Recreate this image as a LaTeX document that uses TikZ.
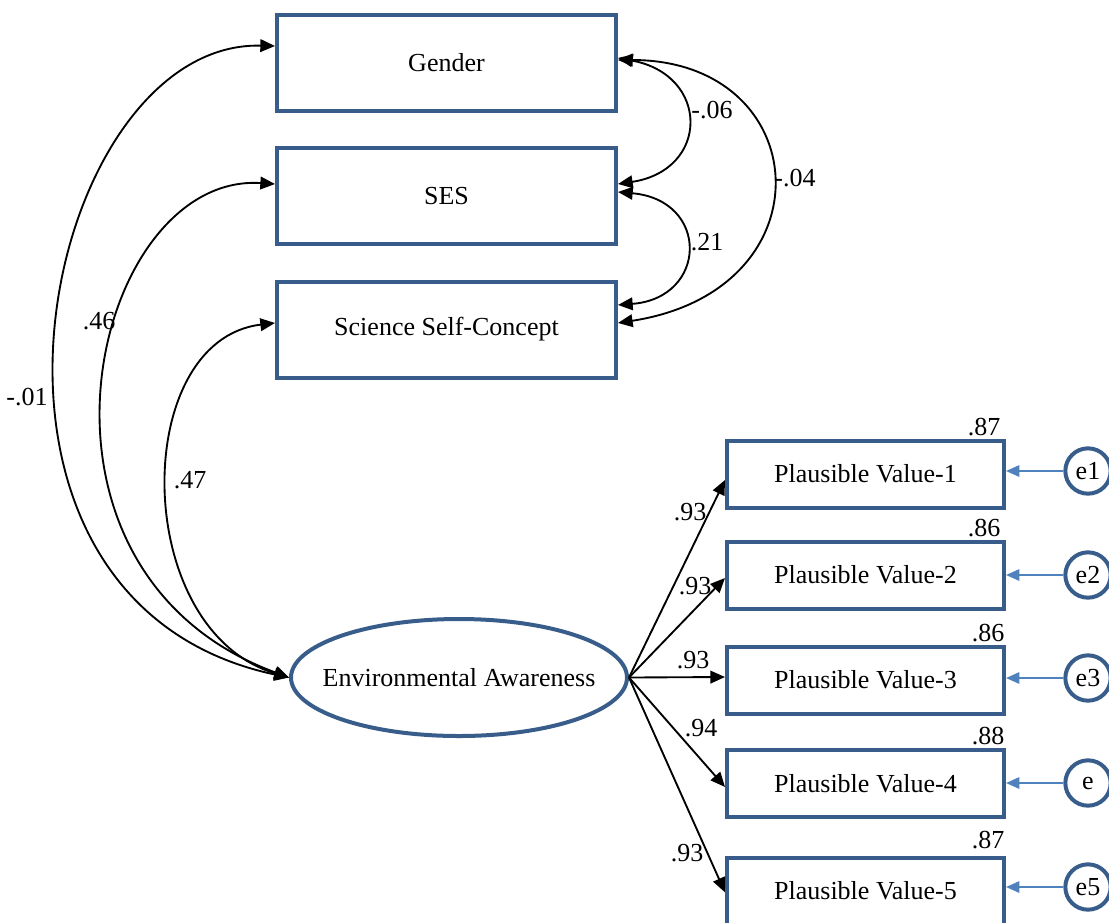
\documentclass[tikz,border=0pt]{standalone}
\usepackage{fontspec}
\setmainfont{Liberation Serif}
\usetikzlibrary{arrows.meta,shapes.geometric,calc}
\definecolor{boxblue}{HTML}{385D8A}
\definecolor{errblue}{HTML}{4F81BD}
\begin{document}
\begin{tikzpicture}[x=0.75pt,y=-0.75pt,
  every node/.style={font=\fontsize{19.5}{23}\selectfont, text=black},
  obs/.style={draw=boxblue, line width=3pt, rectangle, inner sep=0pt},
  topbox/.style={obs, minimum width=254.25pt, minimum height=72pt},
  pvbox/.style={obs, minimum width=207.75pt, minimum height=50.25pt},
  latent/.style={draw=boxblue, line width=3pt, ellipse, minimum width=252pt, minimum height=87.75pt, inner sep=0pt},
  errc/.style={draw=boxblue, line width=3pt, circle, minimum size=34pt, inner sep=0pt},
  cov/.style={{Triangle[length=11pt,width=9.5pt]}-{Triangle[length=11pt,width=9.5pt]}, line width=1.4pt, black},
  load/.style={-{Triangle[length=11pt,width=9.5pt]}, line width=1.4pt, black},
  erra/.style={-{Triangle[length=10pt,width=8.5pt]}, errblue, line width=1.5pt},
  lab/.style={inner sep=0pt}
]
\useasboundingbox (0,0) rectangle (1109,922);

% observed exogenous
\node[topbox] (G) at (446.5,63) {Gender};
\node[topbox] (S) at (446.5,196) {SES};
\node[topbox] (C) at (446.5,329.5) {Science Self-Concept};

% latent
\node[latent] (E) at (459,677.5) {};
\node (Et) at (E.center) {Environmental Awareness};

% indicators
\node[pvbox] (P1) at (865.5,474) {Plausible Value-1};
\node[pvbox] (P2) at (865.5,575) {Plausible Value-2};
\node[pvbox] (P3) at (865.5,680) {Plausible Value-3};
\node[pvbox] (P4) at (865.5,783.5) {Plausible Value-4};
\node[pvbox] (P5) at (865.5,891) {Plausible Value-5};

% errors
\node[errc] (e1) at (1088,471) {e1};
\node[errc] (e2) at (1088,575) {e2};
\node[errc] (e3) at (1088,678) {e3};
\node[errc] (e4) at (1088,783) {e};
\node[errc] (e5) at (1088,887) {e5};

% left covariances
\draw[cov] (E.west) .. controls (-76,600) and (42,40) .. ([yshift=12.75pt]G.west);
\draw[cov] (E.west) .. controls (-2,570) and (92,172) .. ([yshift=9pt]S.west);
\draw[cov] (E.west) .. controls (130,630) and (130,340) .. ([yshift=4.9pt]C.west);

% right covariances
\draw[cov] ([yshift=3.75pt]G.east) .. controls (710,75) and (710,170) .. ([yshift=9pt]S.east);
\draw[cov] ([yshift=3pt]S.east) .. controls (710,200) and (708,298) .. ([yshift=18.4pt]C.east);
\draw[cov] ([yshift=2.25pt]G.east) .. controls (815,60) and (832,290) .. ([yshift=4.9pt]C.east);

% loadings
\draw[load] (E.east) -- ([yshift=-4.5pt]P1.west);
\draw[load] (E.east) -- ([yshift=-2.25pt]P2.west);
\draw[load] (E.east) -- ([yshift=2.25pt]P3.west);
\draw[load] (E.east) -- ([yshift=-2.6pt]P4.west);
\draw[load] (E.east) -- ([yshift=-1pt]P5.west);

% error arrows
\draw[erra] (e1) -- (e1 -| P1.east);
\draw[erra] (e2) -- (e2 -| P2.east);
\draw[erra] (e3) -- (e3 -| P3.east);
\draw[erra] (e4) -- (e4 -| P4.east);
\draw[erra] (e5) -- (e5 -| P5.east);

% covariance labels
\node[lab] (c1) at (27,397) {-.01};
\node[lab] (c2) at (99,321) {.46};
\node[lab] (c3) at (190,480) {.47};
\node[lab] (c4) at (712,110) {-.06};
\node[lab] (c5) at (707,242) {.21};
\node[lab] (c6) at (795,178) {-.04};

% loading labels
\node[lab] (l1) at (690,512) {.93};
\node[lab] (l2) at (695,586) {.93};
\node[lab] (l3) at (693,660) {.93};
\node[lab] (l4) at (701,728) {.94};
\node[lab] (l5) at (687,853) {.93};

% R-squared labels
\node[lab] (r1) at (984,427) {.87};
\node[lab] (r2) at (984,528) {.86};
\node[lab] (r3) at (988,633) {.86};
\node[lab] (r4) at (988,736) {.88};
\node[lab] (r5) at (988,840) {.87};
\end{tikzpicture}
\end{document}
